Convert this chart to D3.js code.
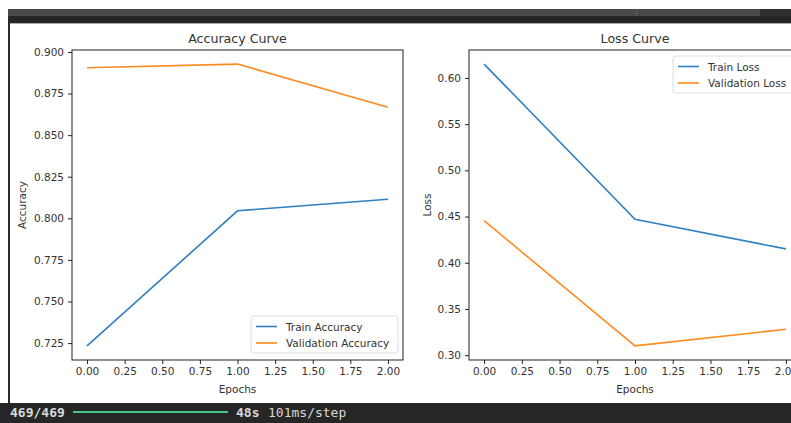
<!DOCTYPE html>
<html>
<head>
  <style>
    body {
      margin: 0;
      background: white;
    }
    svg text {
      font-family: "DejaVu Sans", sans-serif;
      fill: #333;
    }
    .axis path, .axis line {
      stroke: #222;
    }
    .term {
      font-family: "DejaVu Sans Mono", monospace;
      font-size: 13px;
    }
  </style>
</head>
<body>
  <div id="chart"></div>
  <script src="https://d3js.org/d3.v7.min.js"></script>
  <script>
    var width = 791, height = 423;

    // values
    var epochs = [0, 1, 2];
    var trainAcc = [0.7233, 0.8045, 0.8115];
    var valAcc = [0.8905, 0.8927, 0.8668];
    var trainLoss = [0.6150, 0.4470, 0.4150];
    var valLoss = [0.4455, 0.3100, 0.3280];

    var xTicks = [0, 0.25, 0.5, 0.75, 1, 1.25, 1.5, 1.75, 2];
    var accTicks = [0.725, 0.75, 0.775, 0.8, 0.825, 0.85, 0.875, 0.9];
    var lossTicks = [0.30, 0.35, 0.40, 0.45, 0.50, 0.55, 0.60];

    var blue = "#2f7fc1", orange = "#ff8a1e";

    var svg = d3.select("#chart").append("svg")
        .attr("width", width).attr("height", height);

    // window chrome around the figure
    svg.append("rect").attr("x", 8).attr("y", 9).attr("width", 752).attr("height", 8).attr("fill", "#4a4a4a");
    svg.append("rect").attr("x", 760).attr("y", 9).attr("width", 31).attr("height", 8).attr("fill", "#303030");
    svg.append("rect").attr("x", 636).attr("y", 9).attr("width", 1).attr("height", 8).attr("fill", "#5a5a5a");
    svg.append("rect").attr("x", 8).attr("y", 16).attr("width", 783).attr("height", 7).attr("fill", "#262626");
    svg.append("rect").attr("x", 8).attr("y", 16).attr("width", 2).attr("height", 390).attr("fill", "#2a2a2a");
    svg.append("rect").attr("x", 10).attr("y", 23).attr("width", 781).attr("height", 1).attr("fill", "#aaa");

    // function draws one subplot
    function panel(opt) {
      var g = svg.append("g");
      var x = d3.scaleLinear().domain([-0.1, 2.1]).range([opt.left, opt.right]);
      var all = opt.a.concat(opt.b);
      var lo = d3.min(all), hi = d3.max(all), m = (hi - lo) * 0.05;
      var y = d3.scaleLinear().domain([lo - m, hi + m]).range([opt.bottom, opt.top]);

      g.append("g").attr("class", "axis")
          .attr("transform", "translate(0," + opt.bottom + ")")
          .call(d3.axisBottom(x).tickValues(xTicks).tickFormat(d3.format(".2f")).tickSize(4).tickPadding(4).tickSizeOuter(0))
          .call(s => s.selectAll("text").attr("font-size", 10.5).attr("font-family", null))
          .call(s => s.select(".domain").remove());
      g.append("g").attr("class", "axis")
          .attr("transform", "translate(" + opt.left + ",0)")
          .call(d3.axisLeft(y).tickValues(opt.ticks).tickFormat(d3.format(opt.fmt)).tickSize(4).tickPadding(4).tickSizeOuter(0))
          .call(s => s.selectAll("text").attr("font-size", 10.5).attr("font-family", null))
          .call(s => s.select(".domain").remove());

      g.append("rect")
          .attr("x", opt.left).attr("y", opt.top)
          .attr("width", opt.right - opt.left).attr("height", opt.bottom - opt.top)
          .attr("fill", "none").attr("stroke", "#222").attr("stroke-width", 1);

      var line = d3.line().x((d, i) => x(epochs[i])).y(d => y(d));
      g.append("path").datum(opt.a).attr("d", line).attr("fill", "none").attr("stroke", blue).attr("stroke-width", 1.6);
      g.append("path").datum(opt.b).attr("d", line).attr("fill", "none").attr("stroke", orange).attr("stroke-width", 1.6);

      var cx = (opt.left + opt.right) / 2;
      g.append("text").attr("x", opt.titleX || cx).attr("y", 43).attr("text-anchor", "middle")
          .attr("font-size", 12.6).text(opt.title);
      g.append("text").attr("x", opt.titleX || cx).attr("y", 393).attr("text-anchor", "middle")
          .attr("font-size", 10.5).text("Epochs");
      g.append("text").attr("transform", "translate(" + opt.ylabX + "," + ((opt.top + opt.bottom) / 2) + ") rotate(-90)")
          .attr("text-anchor", "middle").attr("font-size", 10.5).text(opt.ylab);

      // legend
      var lg = g.append("g").attr("transform", "translate(" + opt.legX + "," + opt.legY + ")");
      lg.append("rect").attr("width", opt.legW).attr("height", 37).attr("rx", 3)
          .attr("fill", "white").attr("fill-opacity", 0.85).attr("stroke", "#ddd");
      opt.names.forEach((n, i) => {
        var yy = 10.5 + i * 16.5;
        lg.append("line").attr("x1", 5).attr("x2", 26).attr("y1", yy).attr("y2", yy)
            .attr("stroke", i ? orange : blue).attr("stroke-width", 1.6);
        lg.append("text").attr("x", 35).attr("y", yy + 4).attr("font-size", 10.5).text(n);
      });
    }

    panel({
      left: 72, right: 403, top: 50, bottom: 360,
      a: trainAcc, b: valAcc, ticks: accTicks, fmt: ".3f",
      title: "Accuracy Curve", ylab: "Accuracy", ylabX: 26,
      names: ["Train Accuracy", "Validation Accuracy"],
      legX: 251, legY: 316, legW: 147
    });
    panel({
      left: 469, right: 801, top: 50, bottom: 360,
      a: trainLoss, b: valLoss, ticks: lossTicks, fmt: ".2f",
      title: "Loss Curve", ylab: "Loss", ylabX: 431, titleX: 635,
      names: ["Train Loss", "Validation Loss"],
      legX: 673, legY: 56, legW: 124
    });

    // terminal progress line under the figure
    svg.append("rect").attr("x", 0).attr("y", 403).attr("width", width).attr("height", 20).attr("fill", "#262626");
    svg.append("text").attr("class", "term").attr("x", 10).attr("y", 417).attr("font-weight", "bold")
        .style("fill", "#d8d8d8").text("469/469");
    svg.append("line").attr("x1", 73).attr("x2", 228).attr("y1", 412).attr("y2", 412)
        .attr("stroke", "#46c58a").attr("stroke-width", 2.2);
    svg.append("text").attr("class", "term").attr("x", 236).attr("y", 417).attr("font-weight", "bold")
        .style("fill", "#d8d8d8").text("48s");
    svg.append("text").attr("class", "term").attr("x", 268).attr("y", 417)
        .style("fill", "#d8d8d8").text("101ms/step");
  </script>
</body>
</html>
